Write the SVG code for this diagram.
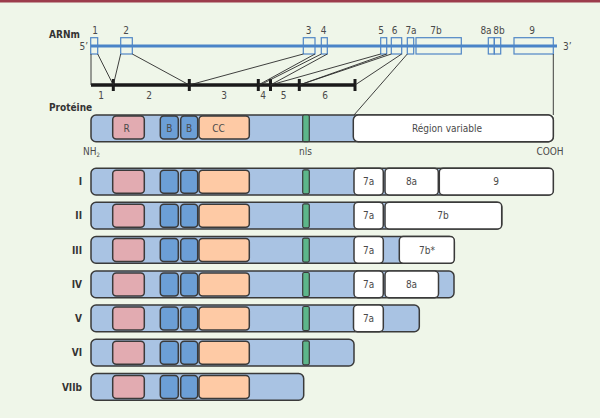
<svg xmlns="http://www.w3.org/2000/svg" width="600" height="418" viewBox="0 0 600 418">
<style>
text{font-family:"DejaVu Sans Condensed","DejaVu Sans","Liberation Sans",sans-serif;font-stretch:condensed;font-size:10px;fill:#4a4a4a}
.b{font-weight:bold;fill:#333}
.c{text-anchor:middle}
.e{text-anchor:end}
.ex{fill:none;stroke:#4f86c6;stroke-width:1.2}
.cn{stroke:#2a2a2a;stroke-width:0.9;fill:none}
.tk{stroke:#1a1a1a;stroke-width:3}
.bar{fill:#a9c3e3;stroke:#3a3a3a;stroke-width:1.5}
.r{fill:#e2abb1;stroke:#3a3a3a;stroke-width:1.5}
.bb{fill:#6c9fd6;stroke:#3a3a3a;stroke-width:1.5}
.cc{fill:#fecaa5;stroke:#3a3a3a;stroke-width:1.5}
.nls{fill:#5db68a;stroke:#3a3a3a;stroke-width:1.2}
.w{fill:#ffffff;stroke:#3a3a3a;stroke-width:1.5}
</style>
<defs>
<g id="core">
<rect class="r" x="112.7" y="2" width="31.6" height="23" rx="3.5"/>
<rect class="bb" x="160.3" y="2" width="18" height="23" rx="3.5"/>
<rect class="bb" x="180.7" y="2" width="17" height="23" rx="3.5"/>
<rect class="cc" x="199" y="2" width="50.3" height="23" rx="3.5"/>
</g>
<rect id="nlsb" class="nls" x="302.7" y="1.5" width="6.6" height="24" rx="1.5"/>
</defs>
<rect x="0" y="0" width="600" height="418" fill="#eff6e9"/>
<rect x="0" y="0" width="600" height="2.5" fill="#9c3c4c"/>

<g id="mrna">
<text class="b" x="49" y="38">ARNm</text>
<text x="79.5" y="49.5">5’</text>
<text x="563" y="49.5">3’</text>
<line x1="91" y1="46" x2="557" y2="46" stroke="#4a84c8" stroke-width="3"/>
<rect class="ex" x="90.7" y="37.7" width="7" height="16.3"/>
<rect class="ex" x="120.7" y="37.7" width="11.6" height="16.3"/>
<rect class="ex" x="303.3" y="37.7" width="11.7" height="16.3"/>
<rect class="ex" x="321.3" y="37.7" width="6" height="16.3"/>
<rect class="ex" x="380.7" y="37.7" width="6" height="16.3"/>
<rect class="ex" x="391.3" y="37.7" width="10.4" height="16.3"/>
<rect class="ex" x="407.3" y="37.7" width="6.4" height="16.3"/>
<rect class="ex" x="416" y="37.7" width="45.3" height="16.3"/>
<rect class="ex" x="488.3" y="37.7" width="6" height="16.3"/>
<rect class="ex" x="494.3" y="37.7" width="6.4" height="16.3"/>
<rect class="ex" x="514" y="37.7" width="39.3" height="16.3"/>
<text class="c" x="95" y="34">1</text>
<text class="c" x="126" y="34">2</text>
<text class="c" x="308.5" y="34">3</text>
<text class="c" x="323.5" y="34">4</text>
<text class="c" x="381" y="34">5</text>
<text class="c" x="394.5" y="34">6</text>
<text class="c" x="411" y="34">7a</text>
<text class="c" x="436" y="34">7b</text>
<text class="c" x="486" y="34">8a</text>
<text class="c" x="499" y="34">8b</text>
<text class="c" x="532" y="34">9</text>
</g>

<g id="domains">
<line x1="91" y1="85" x2="356" y2="85" stroke="#1a1a1a" stroke-width="3.5"/>
<line class="tk" x1="113.3" y1="79" x2="113.3" y2="91"/>
<line class="tk" x1="189.3" y1="79" x2="189.3" y2="91"/>
<line class="tk" x1="258.3" y1="79" x2="258.3" y2="91"/>
<line class="tk" x1="270.5" y1="79" x2="270.5" y2="91"/>
<line class="tk" x1="299.3" y1="79" x2="299.3" y2="91"/>
<line class="tk" x1="355" y1="79" x2="355" y2="91"/>
<text class="c" x="101" y="98.5">1</text>
<text class="c" x="149" y="98.5">2</text>
<text class="c" x="224" y="98.5">3</text>
<text class="c" x="263" y="98.5">4</text>
<text class="c" x="283.5" y="98.5">5</text>
<text class="c" x="325" y="98.5">6</text>
</g>

<g id="connectors">
<line class="cn" x1="91" y1="54" x2="91" y2="85"/>
<line class="cn" x1="97.7" y1="54" x2="113.3" y2="85"/>
<line class="cn" x1="120.7" y1="54" x2="113.3" y2="85"/>
<line class="cn" x1="132.3" y1="54" x2="189.3" y2="85"/>
<line class="cn" x1="303.3" y1="54" x2="189.3" y2="85"/>
<line class="cn" x1="315" y1="54" x2="258.3" y2="85"/>
<line class="cn" x1="321.3" y1="54" x2="260" y2="85"/>
<line class="cn" x1="327.3" y1="54" x2="270.5" y2="85"/>
<line class="cn" x1="380.7" y1="54" x2="270.5" y2="85"/>
<line class="cn" x1="386.7" y1="54" x2="299.3" y2="85"/>
<line class="cn" x1="391.3" y1="54" x2="299.3" y2="85"/>
<line class="cn" x1="401.7" y1="54" x2="355" y2="85"/>
<line class="cn" x1="407.3" y1="54" x2="354" y2="115"/>
<line class="cn" x1="553.3" y1="54" x2="553.3" y2="115"/>
</g>

<g id="proteine">
<text class="b" x="49" y="111">Protéine</text>
<rect class="bar" x="91" y="115" width="462.3" height="26.7" rx="5"/>
<use href="#core" x="0" y="114"/>
<text class="c" x="126.5" y="132">R</text>
<text class="c" x="169.3" y="132">B</text>
<text class="c" x="189.2" y="132">B</text>
<text class="c" x="218.5" y="132">CC</text>
<rect class="nls" x="302.7" y="115" width="6.6" height="26.7" rx="1.5"/>
<rect class="w" x="353.3" y="115" width="200" height="26.7" rx="5"/>
<text class="c" x="447" y="132">Région variable</text>
<text x="83" y="155">NH<tspan font-size="6" dy="2">2</tspan></text>
<text class="c" x="305.5" y="155">nls</text>
<text class="c" x="550" y="155">COOH</text>
</g>

<g id="isoform-I">
<text class="b e" x="82" y="185.3">I</text>
<rect class="bar" x="91" y="168.3" width="462.3" height="26.7" rx="5"/>
<use href="#core" x="0" y="168.3"/>
<use href="#nlsb" x="0" y="168.3"/>
<rect class="w" x="354" y="168.3" width="29.3" height="26.7" rx="4"/>
<rect class="w" x="385" y="168.3" width="53.3" height="26.7" rx="4"/>
<rect class="w" x="439.3" y="168.3" width="114" height="26.7" rx="4"/>
<text class="c" x="368.7" y="185.3">7a</text>
<text class="c" x="411.5" y="185.3">8a</text>
<text class="c" x="496" y="185.3">9</text>
</g>

<g id="isoform-II">
<text class="b e" x="82" y="219.3">II</text>
<rect class="bar" x="91" y="202.3" width="410.7" height="26.7" rx="5"/>
<use href="#core" x="0" y="202.3"/>
<use href="#nlsb" x="0" y="202.3"/>
<rect class="w" x="354" y="202.3" width="29.3" height="26.7" rx="4"/>
<rect class="w" x="385" y="202.3" width="116.7" height="26.7" rx="4"/>
<text class="c" x="368.7" y="219.3">7a</text>
<text class="c" x="443" y="219.3">7b</text>
</g>

<g id="isoform-III">
<text class="b e" x="82" y="253.6">III</text>
<rect class="bar" x="91" y="236.6" width="363.3" height="26.7" rx="5"/>
<use href="#core" x="0" y="236.6"/>
<use href="#nlsb" x="0" y="236.6"/>
<rect class="w" x="354" y="236.6" width="29.3" height="26.7" rx="4"/>
<rect class="w" x="399.3" y="236.6" width="55" height="26.7" rx="4"/>
<text class="c" x="368.7" y="253.6">7a</text>
<text class="c" x="427" y="253.6">7b*</text>
</g>

<g id="isoform-IV">
<text class="b e" x="82" y="288">IV</text>
<rect class="bar" x="91" y="271" width="363" height="26.7" rx="5"/>
<use href="#core" x="0" y="271"/>
<use href="#nlsb" x="0" y="271"/>
<rect class="w" x="354" y="271" width="29.3" height="26.7" rx="4"/>
<rect class="w" x="385" y="271" width="53.5" height="26.7" rx="4"/>
<text class="c" x="368.7" y="288">7a</text>
<text class="c" x="411.5" y="288">8a</text>
</g>

<g id="isoform-V">
<text class="b e" x="82" y="322">V</text>
<rect class="bar" x="91" y="305" width="328.3" height="26.7" rx="5"/>
<use href="#core" x="0" y="305"/>
<use href="#nlsb" x="0" y="305"/>
<rect class="w" x="353.5" y="305" width="29.8" height="26.7" rx="4"/>
<text class="c" x="368.5" y="322">7a</text>
</g>

<g id="isoform-VI">
<text class="b e" x="82" y="356.3">VI</text>
<rect class="bar" x="91" y="339.3" width="263" height="26.7" rx="5"/>
<use href="#core" x="0" y="339.3"/>
<use href="#nlsb" x="0" y="339.3"/>
</g>

<g id="isoform-VIIb">
<text class="b e" x="82" y="390.5">VIIb</text>
<rect class="bar" x="91" y="373.5" width="212.7" height="26.7" rx="5"/>
<use href="#core" x="0" y="373.5"/>
</g>
</svg>
